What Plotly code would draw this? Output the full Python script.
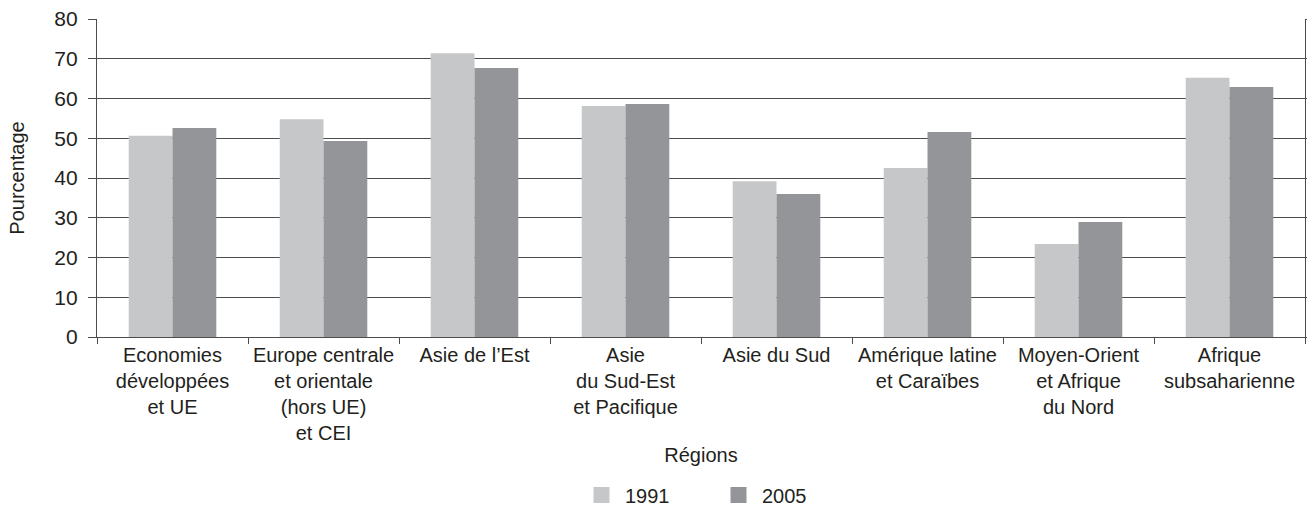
import plotly.graph_objects as go

categories = [
    "Economies<br>développées<br>et UE",
    "Europe centrale<br>et orientale<br>(hors UE)<br>et CEI",
    "Asie de l’Est",
    "Asie<br>du Sud-Est<br>et Pacifique",
    "Asie du Sud",
    "Amérique latine<br>et Caraïbes",
    "Moyen-Orient<br>et Afrique<br>du Nord",
    "Afrique<br>subsaharienne",
]
values_1991 = [50.6, 54.8, 71.4, 58.1, 39.2, 42.5, 23.4, 65.2]
values_2005 = [52.6, 49.3, 67.7, 58.6, 36.0, 51.6, 28.9, 62.9]
series_names = ["1991", "2005"]
y_ticks = [0, 10, 20, 30, 40, 50, 60, 70, 80]

LIGHT = "#c6c7c9"
DARK = "#939598"
TEXT = "#231f20"
FONT = "Liberation Sans, Arial, sans-serif"

fig = go.Figure()
for name, vals, col in [(series_names[0], values_1991, LIGHT), (series_names[1], values_2005, DARK)]:
    fig.add_trace(go.Bar(x=categories, y=vals, name=name, marker=dict(color=col, line=dict(width=0)),
                         showlegend=False))
    fig.add_trace(go.Scatter(x=[None], y=[None], mode="markers", name=name,
                             marker=dict(symbol="square", size=16, color=col), showlegend=True))

fig.update_layout(
    width=1307, height=512,
    margin=dict(l=97, r=2, t=19, b=175, autoexpand=False),
    paper_bgcolor="white", plot_bgcolor="white",
    font=dict(family=FONT, size=20, color=TEXT),
    barmode="group", bargap=0.42, bargroupgap=0,
    legend=dict(orientation="h", x=(578 - 97) / 1208, xanchor="left", y=-0.497, yanchor="middle",
                font=dict(size=20), itemwidth=37, tracegroupgap=0, entrywidth=85),
)
fig.update_xaxes(
    showline=True, linecolor="#4d4d4d", linewidth=1.3, automargin=False, tickangle=0,
    ticks="outside", tickson="boundaries", ticklen=6, tickcolor="#4d4d4d",
    tickfont=dict(size=20),
    title=dict(text="Régions", font=dict(size=20), standoff=4),
    showgrid=False,
)
fig.update_yaxes(
    range=[0, 80], tickvals=y_ticks, showline=True, linecolor="#4d4d4d", linewidth=1.3,
    mirror="ticks", ticks="outside", ticklen=8, tickcolor="#4d4d4d", ticklabelstandoff=6,
    showgrid=True, gridcolor="#4d4d4d", gridwidth=1.2, zeroline=False, automargin=False,
    tickfont=dict(size=21),
    title=dict(text="Pourcentage", font=dict(size=20), standoff=24),
)

fig.write_html("out.html", config={"displayModeBar": False},
               post_script="document.body.style.margin='0';")
